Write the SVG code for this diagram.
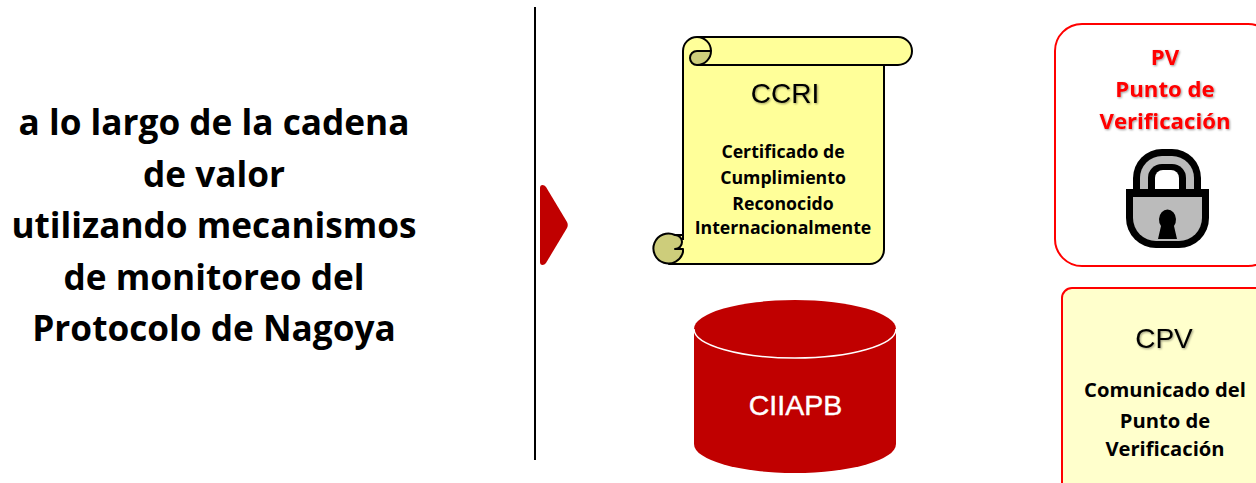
<svg xmlns="http://www.w3.org/2000/svg" width="1256" height="483" viewBox="0 0 1256 483">
<defs>
<filter id="sh" x="-10%" y="-20%" width="125%" height="150%"><feDropShadow dx="1" dy="1" stdDeviation="0.8" flood-color="#000" flood-opacity="0.4"/></filter>
</defs>
<style>
text{text-anchor:middle}
.cal{font-family:"Open Sans","Lato",sans-serif;font-weight:700}
.ar{font-family:"Liberation Sans",Arial,sans-serif}
.main{font-size:35.200px;fill:#000}
.sub{font-size:17.700px;fill:#000}
.sub2{font-size:20.200px;fill:#000}
.pv{font-size:22.200px;fill:#f00;filter:url(#sh)}
.head{font-size:28px;fill:#000;filter:url(#sh)}
.line{stroke:#000;stroke-width:2;fill:none;stroke-linejoin:round}
.scroll{stroke:#000;stroke-width:2;stroke-linejoin:round}
</style>
<rect width="1256" height="483" fill="#fff"/>
<g id="title">
<text class="cal main" x="214" y="135">a lo largo de la cadena</text>
<text class="cal main" x="214" y="187">de valor</text>
<text class="cal main" x="214" y="238">utilizando mecanismos</text>
<text class="cal main" x="214" y="290">de monitoreo del</text>
<text class="cal main" x="214" y="341">Protocolo de Nagoya</text>
</g>
<g id="connectors">
<line x1="535" y1="7" x2="535" y2="460" stroke="#000" stroke-width="2"/>
<path d="M540 188 Q540 185 542.500 185 Q544.500 185 546 187 L567 222 Q568.500 225 567 228 L546 263 Q544.500 265 542.500 265 Q540 265 540 262 Z" fill="#c00000"/>
</g>
<g id="ccri">
<path class="scroll" fill="#ffff99" d="M683 240 L683 51 A14 14 0 0 1 697 37 L898 37 A14 14 0 0 1 898 65 L884 65 L884 249 A14.500 14.500 0 0 1 869.500 264 L669 264 L669 235 L683 235"/>
<path class="scroll" fill="#cdcd7b" d="M711 51 L697 51 A7 7 0 0 0 697 65 A14 14 0 0 0 711 51 Z"/>
<path class="line" d="M697 37 A14 14 0 0 1 711 51 M697 65 L884 65"/>
<path class="scroll" fill="#cdcd7b" d="M675 235 A15 15 0 1 0 683 252 L683 249 L675 249 A7 7 0 0 0 675 235 Z"/>
<text class="ar head" x="785" y="103">CCRI</text>
<text class="cal sub" x="783" y="158">Certificado de</text>
<text class="cal sub" x="783" y="184">Cumplimiento</text>
<text class="cal sub" x="783" y="210">Reconocido</text>
<text class="cal sub" x="783" y="234">Internacionalmente</text>
</g>
<g id="ciiapb">
<path fill="#c00000" d="M694 329 A101 29 0 0 1 896 329 L896 444 A101 29 0 0 1 694 444 Z"/>
<path fill="none" stroke="#fff" stroke-width="1.500" d="M694 329 A101 29 0 0 0 896 329"/>
<text class="ar" x="795.500" y="415" font-size="28.500" fill="#fff" stroke="#fff" stroke-width="0.400">CIIAPB</text>
</g>
<g id="pv">
<rect x="1055" y="24" width="220" height="242" rx="27" fill="#fff" stroke="#f00" stroke-width="2"/>
<text class="cal pv" x="1165" y="65">PV</text>
<text class="cal pv" x="1165" y="97">Punto de</text>
<text class="cal pv" x="1165" y="129">Verificación</text>
<path d="M1133 195 L1133 178 A29 29 0 0 1 1162 149 L1172 149 A29 29 0 0 1 1201 178 L1201 195 Z" fill="#000"/>
<path d="M1140 195 L1140 178 A22 22 0 0 1 1162 156 L1172 156 A22 22 0 0 1 1194 178 L1194 195 Z" fill="#bbb"/>
<path d="M1148 195 L1148 178 A14 14 0 0 1 1162 164 L1172 164 A14 14 0 0 1 1186 178 L1186 195 Z" fill="#000"/>
<path d="M1155 195 L1155 178 A8 8 0 0 1 1163 170 L1171 170 A8 8 0 0 1 1179 178 L1179 195 Z" fill="#fff"/>
<path d="M1126 189 L1209 189 L1209 218 A30 30 0 0 1 1179 248 L1156 248 A30 30 0 0 1 1126 218 Z" fill="#000"/>
<path d="M1133 197 L1202 197 L1202 218 A23 23 0 0 1 1179 241 L1156 241 A23 23 0 0 1 1133 218 Z" fill="#bbb"/>
<path d="M1158 239 L1161 226 A8.500 10 0 1 1 1174 226 L1177 239 Z" fill="#000"/>
</g>
<g id="cpv">
<rect x="1062" y="288" width="220" height="220" rx="10" fill="#ffffcc" stroke="#f00" stroke-width="2"/>
<text class="ar head" x="1164" y="348">CPV</text>
<text class="cal sub2" x="1165" y="397">Comunicado del</text>
<text class="cal sub2" x="1165" y="428">Punto de</text>
<text class="cal sub2" x="1165" y="456">Verificación</text>
</g>
</svg>
